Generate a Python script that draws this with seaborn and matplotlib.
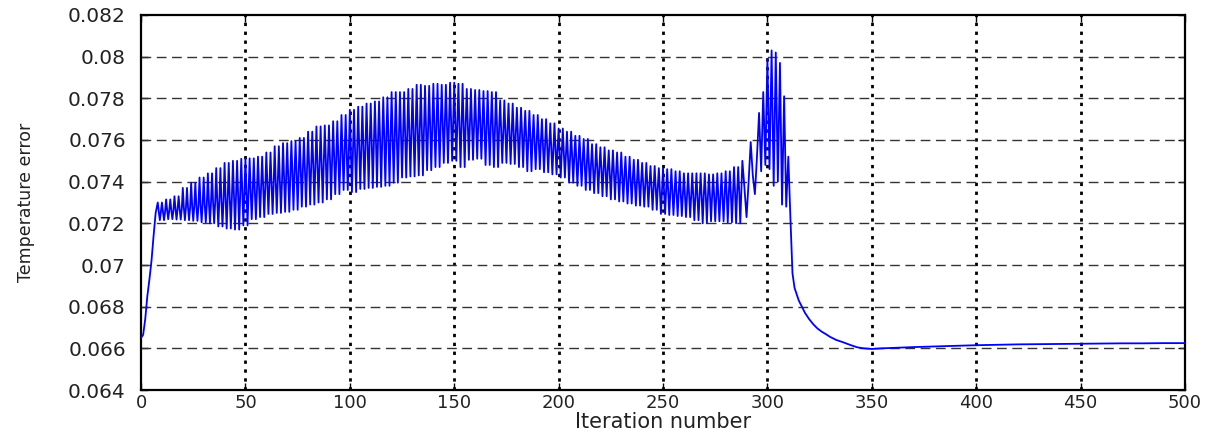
import matplotlib
matplotlib.use("Agg")
import matplotlib.pyplot as plt
import seaborn as sns
import pandas as pd

# Temperature error per iteration, in units of 1e-5.
# Start-up rise, iterations 0-7.
RISE = [6650, 6665, 6740, 6850, 6930, 7020, 7140, 7250]

# Oscillating phase: each 4-iteration block (starting at 8, 12, ..., 284)
# holds two swings top -> mid -> bottom -> mid, sampled every half iteration.
CYCLE_TOP = [7300, 7315, 7330, 7370, 7395, 7420, 7440, 7465, 7490, 7500,
             7510, 7512, 7520, 7540, 7570, 7585, 7595, 7610, 7640, 7665,
             7670, 7690, 7720, 7745, 7760, 7775, 7785, 7805, 7830, 7830,
             7845, 7865, 7860, 7870, 7865, 7875, 7870, 7845, 7840, 7835,
             7830, 7790, 7775, 7755, 7740, 7720, 7700, 7680, 7655, 7640,
             7620, 7605, 7580, 7565, 7550, 7540, 7520, 7505, 7490, 7475,
             7465, 7460, 7450, 7440, 7440, 7440, 7435, 7440, 7450, 7470]
CYCLE_MID = [7255, 7262, 7268, 7275, 7282, 7290, 7300, 7310, 7320, 7335,
             7345, 7355, 7370, 7385, 7400, 7420, 7440, 7455, 7475, 7490,
             7505, 7520, 7535, 7555, 7570, 7585, 7600, 7610, 7620, 7630,
             7640, 7650, 7660, 7670, 7680, 7680, 7680, 7675, 7670, 7665,
             7660, 7645, 7635, 7625, 7605, 7590, 7570, 7555, 7535, 7520,
             7500, 7480, 7465, 7455, 7440, 7425, 7410, 7400, 7385, 7375,
             7360, 7350, 7340, 7330, 7330, 7330, 7330, 7330, 7340, 7350]
CYCLE_BOT = [7215, 7220, 7218, 7215, 7212, 7205, 7200, 7185, 7175, 7170,
             7190, 7220, 7230, 7245, 7250, 7255, 7265, 7280, 7290, 7300,
             7315, 7340, 7360, 7350, 7365, 7370, 7375, 7380, 7395, 7420,
             7425, 7430, 7455, 7470, 7490, 7500, 7470, 7505, 7510, 7480,
             7470, 7490, 7485, 7470, 7450, 7460, 7445, 7435, 7420, 7395,
             7380, 7360, 7345, 7330, 7315, 7305, 7295, 7285, 7280, 7265,
             7245, 7240, 7235, 7230, 7215, 7200, 7210, 7210, 7205, 7200]

# Burst before convergence, iterations 288-311.
PEAK = [7500, 7370, 7230, 7400, 7590, 7430, 7340, 7520, 7730, 7450,
        7830, 7480, 7990, 7460, 8030, 7380, 8020, 7400, 7970, 7290,
        7810, 7280, 7520, 7230]

# Decay and settled tail.
DECAY_ITER = [312, 313, 314, 315, 316, 317, 318, 319, 320, 322, 324, 326,
              328, 330, 333, 336, 340, 343, 346, 350, 355, 360, 370, 380,
              390, 400, 410, 420, 430, 440, 450, 460, 470, 480, 490, 500]
DECAY_ERR = [6960, 6890, 6860, 6830, 6810, 6790, 6770, 6755, 6740, 6715,
             6695, 6680, 6668, 6655, 6640, 6630, 6615, 6605, 6600, 6597,
             6600, 6602, 6606, 6609, 6612, 6615, 6617, 6619, 6620, 6621,
             6622, 6623, 6624, 6624, 6625, 6625]

X_TICKS = [0, 50, 100, 150, 200, 250, 300, 350, 400, 450, 500]
Y_TICKS = [0.064, 0.066, 0.068, 0.070, 0.072, 0.074, 0.076, 0.078, 0.080, 0.082]
Y_TICK_LABELS = ["0.064", "0.066", "0.068", "0.07", "0.072", "0.074",
                 "0.076", "0.078", "0.08", "0.082"]

# Assemble the series
iters = list(range(len(RISE)))
errs = list(RISE)
for k, start in enumerate(range(8, 288, 4)):
    for half in (0.0, 2.0):
        iters += [start + half, start + half + 0.5, start + half + 1.0, start + half + 1.5]
        errs += [CYCLE_TOP[k], CYCLE_MID[k], CYCLE_BOT[k], CYCLE_MID[k]]
iters += list(range(288, 288 + len(PEAK)))
errs += PEAK
iters += DECAY_ITER
errs += DECAY_ERR

df = pd.DataFrame({"iteration": iters, "error": [e * 1e-5 for e in errs]})

sns.set_theme(style="white")
plt.rcParams["font.family"] = ["DejaVu Sans"]

fig = plt.figure(figsize=(12.17, 4.36), dpi=100)
ax = fig.add_axes([0.1159, 0.1055, 0.8578, 0.8601])

sns.lineplot(data=df, x="iteration", y="error", ax=ax, color="#0000ff",
             linewidth=1.3, estimator=None, sort=False, zorder=3)

ax.set_xlim(0, 500)
ax.set_ylim(0.064, 0.082)
ax.set_xticks(X_TICKS)
ax.set_xticklabels([str(t) for t in X_TICKS], fontsize=13, color="#222222")
ax.set_yticks(Y_TICKS)
ax.set_yticklabels(Y_TICK_LABELS, fontsize=14.5, color="#222222")

for x in X_TICKS[1:-1]:
    ax.axvline(x, color="black", linestyle=(0, (1.2, 2.0)), linewidth=2.0, zorder=1)
for y in Y_TICKS[1:-1]:
    ax.axhline(y, color="#333333", linestyle=(0, (7, 4)), linewidth=1.0, zorder=1)

ax.tick_params(axis="both", direction="in", length=5, width=1, color="black",
               top=True, right=True, bottom=True, left=True)
ax.tick_params(axis="y", pad=11)
ax.tick_params(axis="x", pad=3)

for side, spine in ax.spines.items():
    spine.set_visible(True)
    spine.set_color("black")
    spine.set_linewidth(1.6)

ax.set_xlabel("Iteration number", fontsize=15, labelpad=0, color="#222222")
ax.set_ylabel("Temperature error", fontsize=12.5, labelpad=24, color="#222222")

fig.savefig("out.png", dpi=100)
